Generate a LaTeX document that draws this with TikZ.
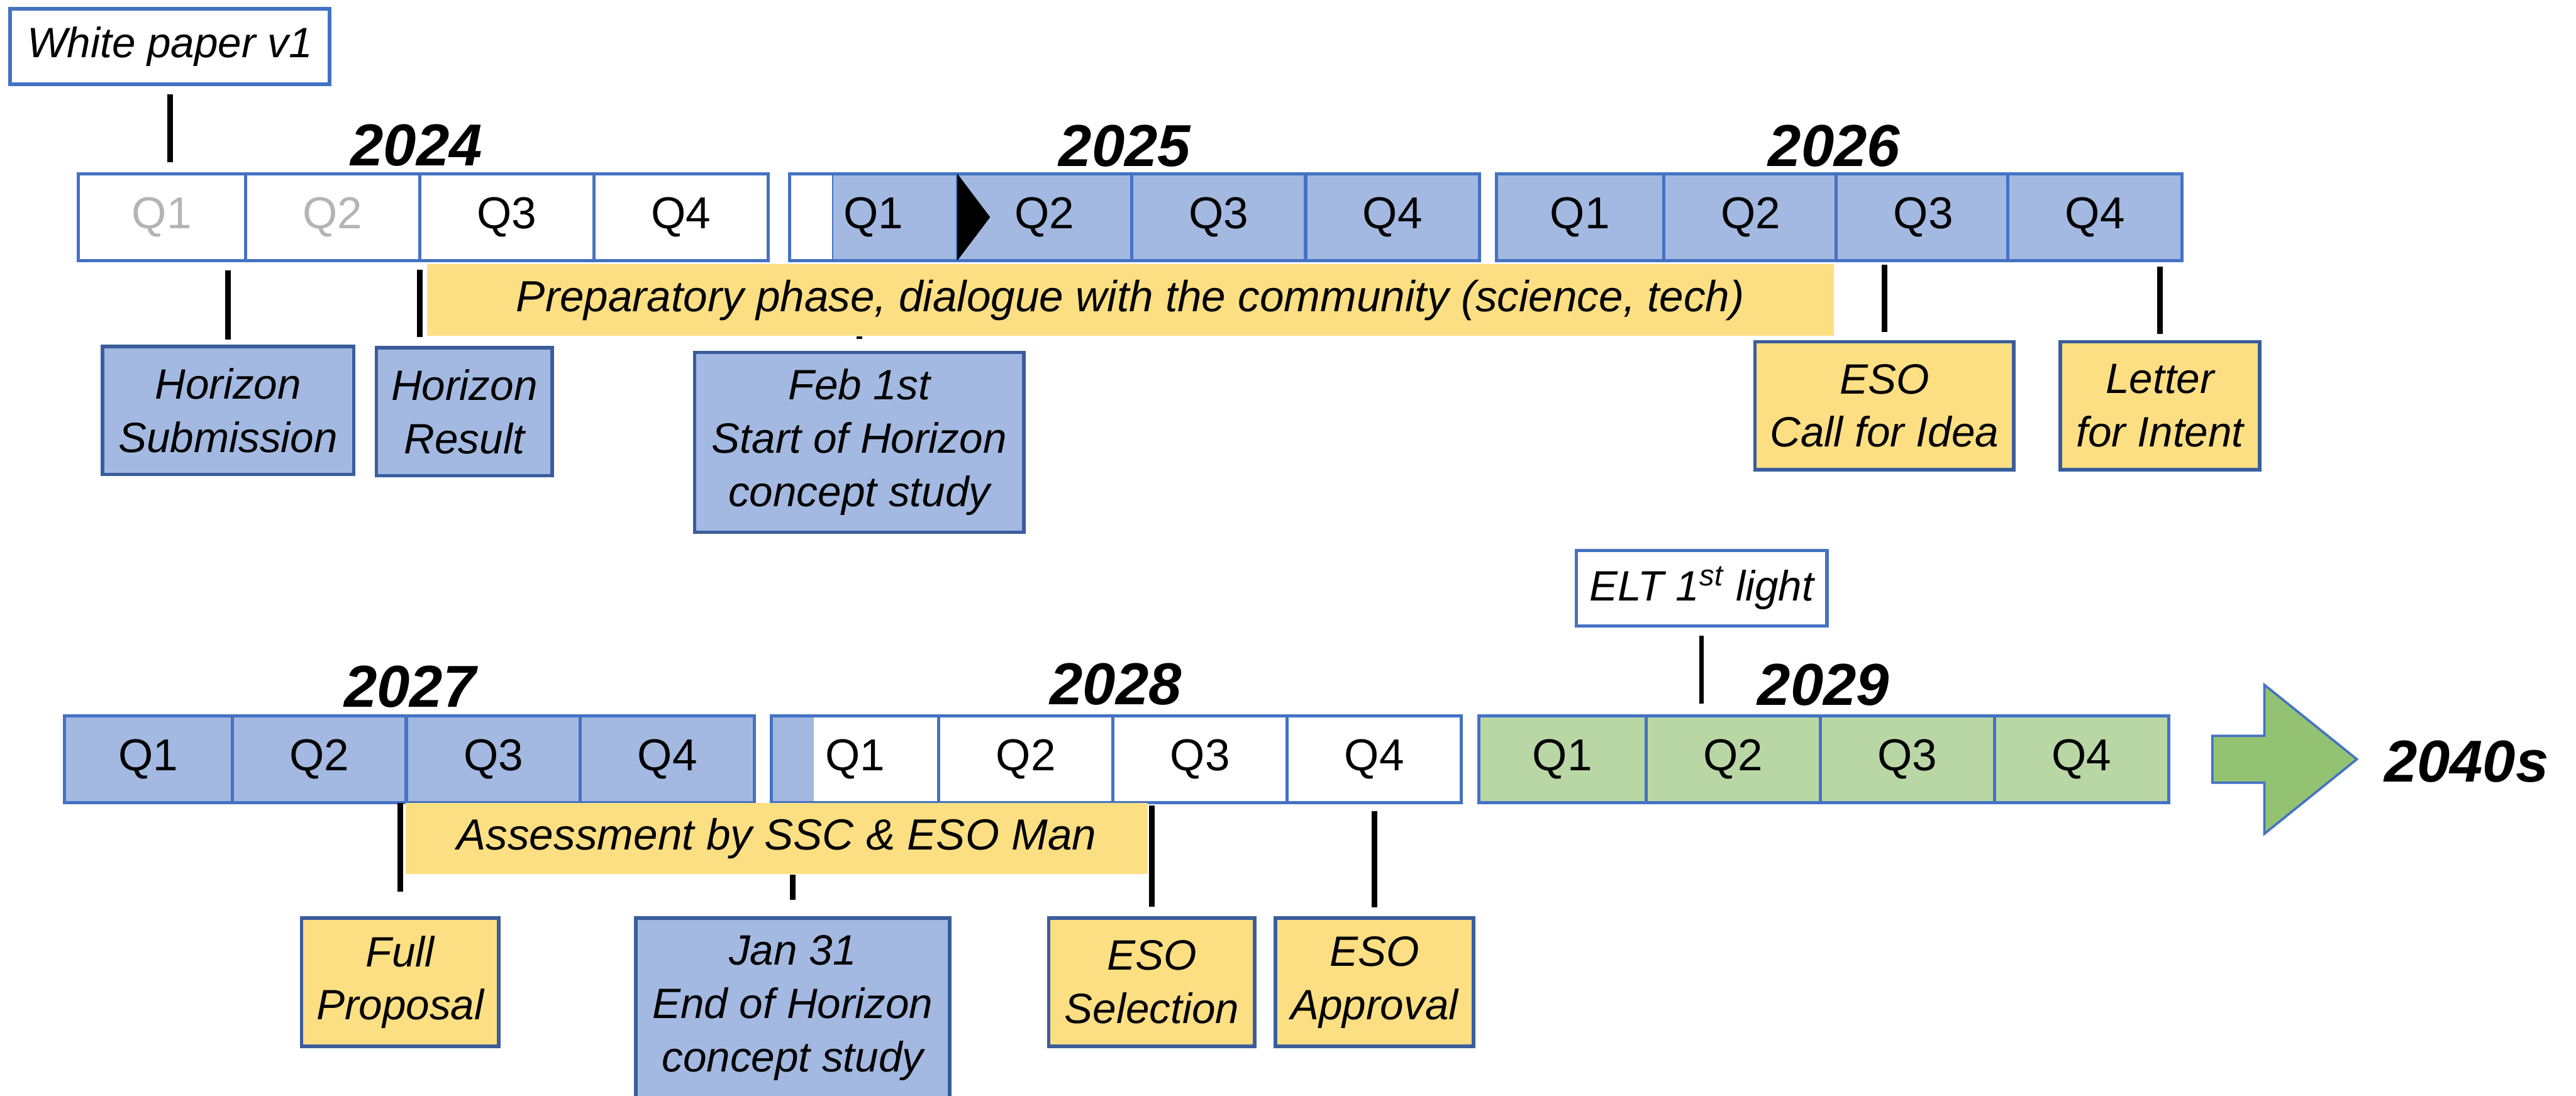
\documentclass[tikz,border=0pt]{standalone}
\usepackage{xcolor}
\usepackage{tikz}
\usepackage{fontspec}
\setmainfont{Liberation Sans}
\usetikzlibrary{positioning}
\definecolor{qblue}{HTML}{A3B9E1}
\definecolor{qline}{HTML}{4472C4}
\definecolor{evline}{HTML}{3A5D9C}
\definecolor{evyellow}{HTML}{FDDF83}
\definecolor{qgreen}{HTML}{B9D7A5}
\definecolor{arrgreen}{HTML}{94C273}
\definecolor{qgrey}{HTML}{B4B4B4}
\def\qfont{\fontsize{15.5}{18}\selectfont}
\def\evfont{\fontsize{14.7}{18.5}\selectfont\itshape}
\def\bandfont{\fontsize{15.1}{18}\selectfont\itshape}
\def\yrfont{\fontsize{20.5}{24}\selectfont\bfseries\itshape}

\begin{document}
\begin{tikzpicture}[x=0.02cm, y=-0.02cm,
    cell/.style={draw=qline, line width=1.1pt, minimum width=2.12cm, minimum height=1.06cm, inner sep=0pt, outer sep=0pt, font=\qfont},
    first/.style={cell, minimum width=2.04cm},
    year/.style={anchor=base, inner sep=0pt, font=\yrfont},
    ev/.style={draw=evline, line width=1.2pt, inner sep=0pt, align=center, minimum height=1.56cm, font=\evfont},
    evblue/.style={ev, fill=qblue},
    evyel/.style={ev, fill=evyellow},
    mark box/.style={draw=qline, line width=1.2pt, fill=white, inner sep=0pt, minimum height=0.92cm, font=\evfont},
    band/.style={fill=evyellow, inner sep=0pt, minimum height=0.87cm, font=\bandfont},
    tick/.style={line width=2pt}]
    \useasboundingbox (0,0) rectangle (1568,667);

    % first row: 2024 - 2026
    \node[year] (y24) at (253.5,101) {2024};
    \node[year] (y25) at (684.7,101.4) {2025};
    \node[year] (y26) at (1116.5,101.4) {2026};

    \node[first, text=qgrey] (a1) at (98.5,132.2) {Q1};
    \node[cell, text=qgrey] (a2) at (202.5,132.2) {Q2};
    \node[cell] (a3) at (308.5,132.2) {Q3};
    \node[cell] (a4) at (414.5,132.2) {Q4};

    \node[first, path picture={\fill[qblue] ([xshift=0.52cm]path picture bounding box.south west) rectangle (path picture bounding box.north east);
        \draw[qline, thin] ([xshift=0.52cm]path picture bounding box.south west) -- ([xshift=0.52cm]path picture bounding box.north west);}] (b1) at (531.7,132.2) {Q1};
    \node[cell, fill=qblue] (b2) at (635.7,132.2) {Q2};
    \node[cell, fill=qblue] (b3) at (741.7,132.2) {Q3};
    \node[cell, fill=qblue] (b4) at (847.7,132.2) {Q4};
    \fill (b1.north east) -- (b1.south east) -- ([xshift=0.4cm]b1.east) -- cycle;

    \node[first, fill=qblue] (d1) at (961.7,132.2) {Q1};
    \node[cell, fill=qblue] (d2) at (1065.7,132.2) {Q2};
    \node[cell, fill=qblue] (d3) at (1170.7,132.2) {Q3};
    \node[cell, fill=qblue] (d4) at (1275.2,132.2) {Q4};

    \node[mark box, minimum width=3.89cm] (wp) at (103.4,28.35) {White paper v1};
    \draw[tick] ([yshift=-0.1cm]wp.south) -- ([yshift=0.14cm]wp.south |- a1.north);

    \node[band, minimum width=17.13cm] (prep) at (688.05,182.7) {Preparatory phase, dialogue with the community (science, tech)};

    \node[evblue, minimum width=3.06cm] (hsub) at (138.8,249.9) {Horizon\\Submission};
    \node[evblue, minimum width=2.14cm] (hres) at (282.65,250.6) {Horizon\\Result};
    \node[evblue, minimum width=4.01cm, minimum height=2.19cm] (feb) at (523.05,269.25) {Feb 1st\\Start of Horizon\\concept study};
    \node[evyel, minimum width=3.15cm] (cfi) at (1147.05,247) {ESO\\Call for Idea};
    \node[evyel, minimum width=2.43cm] (loi) at (1314.75,247) {Letter\\for Intent};

    \draw[tick] ([yshift=-0.12cm]hsub.north |- a1.south) -- ([yshift=0.066cm]hsub.north);
    \draw[tick] ([yshift=-0.11cm]a2.south east) -- ([yshift=0.11cm]a2.south east |- hres.north);
    \draw[tick] (feb.north |- prep.south) -- ([yshift=0.14cm]feb.north);
    \draw[tick] ([yshift=-0.05cm]cfi.north |- d3.south) -- ([yshift=0.1cm]cfi.north);
    \draw[tick] ([yshift=-0.075cm]loi.north |- d4.south) -- ([yshift=0.07cm]loi.north);

    % second row: 2027 - 2029
    \node[year] (y27) at (249.5,430.3) {2027};
    \node[year] (y28) at (679.2,429) {2028};
    \node[year] (y29) at (1110,429.2) {2029};

    \node[first, fill=qblue] (e1) at (90.3,462.2) {Q1};
    \node[cell, fill=qblue] (e2) at (194.3,462.2) {Q2};
    \node[cell, fill=qblue] (e3) at (300.3,462.2) {Q3};
    \node[cell, fill=qblue] (e4) at (406.3,462.2) {Q4};

    \node[first, path picture={\fill[qblue] (path picture bounding box.south west) rectangle ([xshift=0.514cm]path picture bounding box.north west);}] (c1) at (520.5,462.2) {Q1};
    \node[cell] (c2) at (624.5,462.2) {Q2};
    \node[cell] (c3) at (730.5,462.2) {Q3};
    \node[cell] (c4) at (836.5,462.2) {Q4};

    \node[first, fill=qgreen] (f1) at (951,462.2) {Q1};
    \node[cell, fill=qgreen] (f2) at (1055,462.2) {Q2};
    \node[cell, fill=qgreen] (f3) at (1161,462.2) {Q3};
    \node[cell, fill=qgreen] (f4) at (1267,462.2) {Q4};

    \draw[qline, line width=0.8pt, fill=arrgreen] (1346.6,448) -- (1378.3,448) -- (1378.3,416.9) -- (1434.6,462.2)
        -- (1378.3,507.6) -- (1378.3,476.5) -- (1346.6,476.5) -- cycle;
    \node[year] (y40) at (1501.3,475.9) {2040s};

    \node[mark box, minimum width=3.05cm] (elt) at (1035.75,358.05) {ELT 1\textsuperscript{st} light};
    \draw[line width=1.4pt] ([yshift=-0.1cm]elt.south) -- ([yshift=0.146cm]elt.south |- f2.north);

    \node[band, minimum width=9.04cm] (assess) at (472.7,510.45) {Assessment by SSC \& ESO Man};

    \node[evyel, minimum width=2.40cm] (fprop) at (243.6,597.95) {Full\\Proposal};
    \node[evblue, minimum width=3.82cm, minimum height=2.19cm] (jan) at (482.5,613.65) {Jan 31\\End of Horizon\\concept study};
    \node[evyel, minimum width=2.51cm] (esel) at (701.05,597.95) {ESO\\Selection};
    \node[evyel, minimum width=2.41cm] (eapp) at (836.65,597.95) {ESO\\Approval};

    \draw[tick] (fprop.north |- e2.south) -- ([yshift=0.3cm]fprop.north);
    \draw[tick] (jan.north |- assess.south) -- ([yshift=0.2cm]jan.north);
    \draw[tick] ([yshift=-0.03cm]esel.north |- c3.south) -- ([yshift=0.12cm]esel.north);
    \draw[tick] ([yshift=-0.1cm]eapp.north |- c4.south) -- ([yshift=0.11cm]eapp.north);
\end{tikzpicture}
\end{document}
